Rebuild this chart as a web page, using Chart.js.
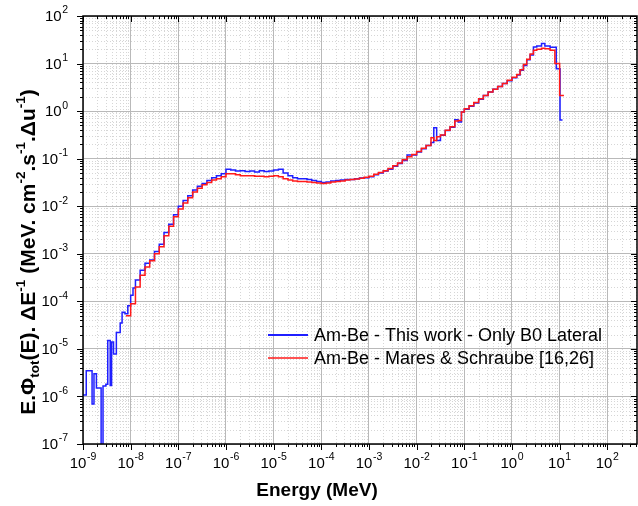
<!DOCTYPE html>
<html><head><meta charset="utf-8">
<script src="https://cdn.jsdelivr.net/npm/chart.js@4"></script>
<style>html,body{margin:0;padding:0;background:#fff;}#wrap{width:638px;height:506px;position:relative;}</style>
</head><body><div id="wrap"><canvas id="c" width="638" height="506"></canvas></div>
<script>
// ---------- data ----------
const xTickExponents = [-9,-8,-7,-6,-5,-4,-3,-2,-1,0,1,2];
const yTickExponents = [-7,-6,-5,-4,-3,-2,-1,0,1,2];
const xAxisTitle = 'Energy (MeV)';
const yAxisTitleParts = [
  {t:'E.\u03A6'},{t:'tot',sub:true},{t:'(E). \u0394E'},{t:'-1',sup:true},
  {t:' (MeV. cm'},{t:'-2',sup:true},{t:'.s'},{t:'-1',sup:true},{t:'.\u0394u'},{t:'-1',sup:true},{t:')'}
];
const seriesLabels = ['Am-Be - This work - Only B0 Lateral','Am-Be - Mares & Schraube [16,26]'];

// bin edges (MeV) and E.Phi values for the "This work" spectrum
const blueEnergy = [1e-9,1.17e-9,1.55e-9,1.70e-9,1.91e-9,2.40e-9,2.63e-9,3.02e-9,3.31e-9,3.72e-9,3.98e-9,4.37e-9,5.01e-9,6.03e-9,6.61e-9,7.59e-9,8.71e-9,
 1e-8,1.12e-8,1.26e-8,1.58e-8,2.0e-8,2.51e-8,3.16e-8,3.98e-8,5.01e-8,6.31e-8,7.94e-8,
 1e-7,1.26e-7,1.58e-7,2.0e-7,2.51e-7,3.16e-7,3.98e-7,5.01e-7,6.31e-7,7.94e-7,
 1e-6,1.26e-6,1.58e-6,2.0e-6,2.51e-6,3.16e-6,3.98e-6,5.01e-6,6.31e-6,7.94e-6,
 1e-5,1.26e-5,1.58e-5,2.0e-5,2.51e-5,3.16e-5,3.98e-5,5.01e-5,6.31e-5,7.94e-5,
 1e-4,1.26e-4,1.58e-4,2.0e-4,2.51e-4,3.16e-4,3.98e-4,5.01e-4,6.31e-4,7.94e-4,
 1e-3,1.26e-3,1.58e-3,2.0e-3,2.51e-3,3.16e-3,3.98e-3,5.01e-3,6.31e-3,7.94e-3,
 1e-2,1.26e-2,1.58e-2,2.0e-2,2.29e-2,2.63e-2,3.16e-2,3.98e-2,5.01e-2,6.31e-2,7.41e-2,8.71e-2,
 0.1,0.126,0.158,0.2,0.251,0.316,0.398,0.501,0.631,0.794,
 1.0,1.26,1.48,1.74,2.04,2.40,2.82,3.31,4.17,4.90,6.31,8.51,10.2,11.5];
const blueFlux = [1.07e-6,3.47e-6,6.9e-7,3.0e-6,1.5e-6,1e-8,1.66e-6,1.8e-6,1.5e-5,1.7e-6,1.4e-5,7.8e-6,2.2e-5,3.5e-5,5.9e-5,5.5e-5,8.1e-5,
 1.35e-4,1.9e-4,2.8e-4,4.5e-4,6.3e-4,7.4e-4,1.12e-3,1.58e-3,2.8e-3,4.2e-3,6.6e-3,
 1.0e-2,1.32e-2,1.66e-2,2.19e-2,2.63e-2,3.02e-2,3.47e-2,3.98e-2,4.37e-2,4.79e-2,
 6.0e-2,5.75e-2,5.5e-2,5.6e-2,5.4e-2,5.5e-2,5.25e-2,5.6e-2,5.4e-2,5.5e-2,
 5.75e-2,6.0e-2,5.0e-2,4.37e-2,3.98e-2,3.8e-2,3.8e-2,3.63e-2,3.47e-2,3.31e-2,
 3.16e-2,3.24e-2,3.39e-2,3.47e-2,3.55e-2,3.63e-2,3.63e-2,3.8e-2,3.9e-2,3.98e-2,
 4.17e-2,4.57e-2,5.0e-2,5.5e-2,6.0e-2,6.9e-2,7.9e-2,9.1e-2,0.12,0.12,
 0.138,0.162,0.19,0.219,0.447,0.24,0.31,0.39,0.457,0.66,0.59,0.955,
 1.10,1.26,1.48,1.78,2.14,2.51,2.88,3.31,3.8,4.37,
 5.0,5.75,7.2,9.1,12.0,15.1,22.4,23.4,26.3,23.4,21.9,7.8,0.65];

// bin edges (MeV) and E.Phi values for Mares & Schraube
const redEnergy = [7.94e-9,
 1e-8,1.26e-8,1.58e-8,2.0e-8,2.51e-8,3.16e-8,3.98e-8,5.01e-8,6.31e-8,7.94e-8,
 1e-7,1.26e-7,1.58e-7,2.0e-7,2.51e-7,3.16e-7,3.98e-7,5.01e-7,6.31e-7,7.94e-7,
 1e-6,1.26e-6,1.58e-6,2.0e-6,2.51e-6,3.16e-6,3.98e-6,5.01e-6,6.31e-6,7.94e-6,
 1e-5,1.26e-5,1.58e-5,2.0e-5,2.51e-5,3.16e-5,3.98e-5,5.01e-5,6.31e-5,7.94e-5,
 1e-4,1.26e-4,1.58e-4,2.0e-4,2.51e-4,3.16e-4,3.98e-4,5.01e-4,6.31e-4,7.94e-4,
 1e-3,1.26e-3,1.58e-3,2.0e-3,2.51e-3,3.16e-3,3.98e-3,5.01e-3,6.31e-3,7.94e-3,
 1e-2,1.26e-2,1.58e-2,2.0e-2,2.29e-2,2.63e-2,3.16e-2,3.98e-2,5.01e-2,6.31e-2,7.41e-2,8.71e-2,
 0.1,0.126,0.158,0.2,0.251,0.316,0.398,0.501,0.631,0.794,
 1.0,1.26,1.48,1.74,2.04,2.40,2.82,3.31,4.17,4.90,6.31,7.94,10.0,12.3];
const redFlux = [5.0e-5,
 8.9e-5,2.0e-4,3.55e-4,5.25e-4,7.1e-4,1.0e-3,1.41e-3,2.4e-3,3.8e-3,6.0e-3,
 8.7e-3,1.17e-2,1.51e-2,2.0e-2,2.4e-2,2.82e-2,3.16e-2,3.55e-2,3.8e-2,4.17e-2,
 4.79e-2,4.79e-2,4.57e-2,4.37e-2,4.37e-2,4.37e-2,4.27e-2,4.27e-2,4.17e-2,4.27e-2,
 4.37e-2,4.17e-2,3.8e-2,3.55e-2,3.39e-2,3.31e-2,3.31e-2,3.24e-2,3.16e-2,3.09e-2,
 3.02e-2,3.09e-2,3.24e-2,3.31e-2,3.39e-2,3.55e-2,3.63e-2,3.72e-2,3.89e-2,4.07e-2,
 4.27e-2,4.68e-2,5.13e-2,5.6e-2,6.2e-2,7.1e-2,8.1e-2,9.5e-2,0.11,0.123,
 0.141,0.166,0.19,0.275,0.24,0.288,0.316,0.398,0.468,0.617,0.631,0.955,
 1.12,1.29,1.51,1.82,2.14,2.51,2.88,3.31,3.8,4.47,
 5.13,5.9,7.4,9.5,12.3,15.8,19.1,20.0,20.9,20.4,19.1,10.0,2.14];

// ---------- helpers ----------
function toSteps(edges, vals){
  const pts = vals.map((v,i)=>({x:edges[i], y:v}));
  pts.push({x:edges[edges.length-1], y:vals[vals.length-1]});
  return pts;
}
const FONT = "'Liberation Sans', Arial, sans-serif";
const BLUE = '#1f1fff', RED = '#ff1a1a';

function drawPow(ctx, exp, x, y, align){
  ctx.font = '15px ' + FONT;
  const wb = ctx.measureText('10').width;
  ctx.font = '10.5px ' + FONT;
  const es = String(exp);
  const we = ctx.measureText(es).width;
  const w = wb + we + 0.5;
  let x0 = align === 'center' ? x - w/2 : x - w;
  ctx.textBaseline = 'middle'; ctx.textAlign = 'left'; ctx.fillStyle = '#000';
  ctx.font = '15px ' + FONT; ctx.fillText('10', x0, y);
  ctx.font = '10.5px ' + FONT; ctx.fillText(es, x0 + wb + 0.5, y - 6.5);
}

function drawRich(ctx, parts, cx, cy, size, small){
  let total = 0;
  for (const p of parts){ ctx.font = 'bold ' + (p.sub||p.sup ? small : size) + 'px ' + FONT; p.w = ctx.measureText(p.t).width; total += p.w; }
  let x = cx - total/2;
  ctx.textBaseline = 'middle'; ctx.textAlign = 'left'; ctx.fillStyle = '#000';
  for (const p of parts){
    ctx.font = 'bold ' + (p.sub||p.sup ? small : size) + 'px ' + FONT;
    const dy = p.sup ? -size*0.38 : (p.sub ? size*0.3 : 0);
    ctx.fillText(p.t, x, cy + dy);
    x += p.w;
  }
}

const framePlugin = {
  id: 'frame',
  beforeDraw(chart){
    const {ctx, chartArea:a, scales:{x, y}} = chart;
    ctx.save();
    ctx.strokeStyle = '#d6d6d6'; ctx.lineWidth = 1; ctx.setLineDash([1,2]);
    ctx.beginPath();
    for (const e of xTickExponents) for (let m=2; m<=9; m++){
      const v = m*Math.pow(10,e); if (v > x.max) continue;
      const px = Math.round(x.getPixelForValue(v)) + 0.5;
      ctx.moveTo(px, a.top); ctx.lineTo(px, a.bottom);
    }
    for (const e of yTickExponents) for (let m=2; m<=9; m++){
      const v = m*Math.pow(10,e); if (v > y.max) continue;
      const py = Math.round(y.getPixelForValue(v)) + 0.5;
      ctx.moveTo(a.left, py); ctx.lineTo(a.right, py);
    }
    ctx.stroke();
    ctx.restore();
  },
  afterDatasetsDraw(chart){
    const {ctx, chartArea:a, scales:{x, y}} = chart;
    ctx.save();
    ctx.strokeStyle = '#000'; ctx.lineWidth = 1;
    ctx.beginPath();
    const majL = 6, minL = 3;
    for (const e of xTickExponents){
      for (let m=1; m<=9; m++){
        const v = m*Math.pow(10,e); if (v > x.max) continue;
        const px = Math.round(x.getPixelForValue(v)) + 0.5;
        const L = m===1 ? majL : minL;
        ctx.moveTo(px, a.bottom); ctx.lineTo(px, a.bottom + L);
        ctx.moveTo(px, a.top); ctx.lineTo(px, a.top + L);
      }
    }
    for (const e of yTickExponents){
      for (let m=1; m<=9; m++){
        const v = m*Math.pow(10,e); if (v > y.max) continue;
        const py = Math.round(y.getPixelForValue(v)) + 0.5;
        const L = m===1 ? majL : minL;
        ctx.moveTo(a.left, py); ctx.lineTo(a.left - L, py);
        ctx.moveTo(a.right, py); ctx.lineTo(a.right - L, py);
      }
    }
    ctx.stroke();
    ctx.lineWidth = 1.5;
    ctx.strokeRect(a.left, a.top, a.right - a.left, a.bottom - a.top);
    ctx.restore();
  },
  afterDraw(chart){
    const {ctx, chartArea:a, scales:{x, y}} = chart;
    ctx.save();
    for (const e of xTickExponents) drawPow(ctx, e, x.getPixelForValue(Math.pow(10,e)), a.bottom + 20, 'center');
    for (const e of yTickExponents) drawPow(ctx, e, a.left - 15, y.getPixelForValue(Math.pow(10,e)) + 1, 'right');
    // axis titles
    ctx.font = 'bold 19px ' + FONT; ctx.textAlign = 'center'; ctx.textBaseline = 'middle'; ctx.fillStyle = '#000';
    ctx.fillText(xAxisTitle, 317, 491);
    ctx.translate(29, 252); ctx.rotate(-Math.PI/2);
    drawRich(ctx, yAxisTitleParts, 0, 0, 21, 13.5);
    ctx.restore();
    // legend
    ctx.save();
    const ds = chart.data.datasets;
    const rows = [{i:0, y:335, w:2}, {i:1, y:358, w:1.5}];
    for (const r of rows){
      ctx.strokeStyle = ds[r.i].borderColor; ctx.lineWidth = r.w;
      ctx.beginPath(); ctx.moveTo(268, r.y); ctx.lineTo(308, r.y); ctx.stroke();
      ctx.font = '18px ' + FONT; ctx.fillStyle = '#000'; ctx.textAlign = 'left'; ctx.textBaseline = 'middle';
      ctx.fillText(ds[r.i].label, 314, r.y + 1);
    }
    ctx.restore();
  }
};

new Chart(document.getElementById('c'), {
  type: 'line',
  data: {
    datasets: [
      {label: seriesLabels[0], data: toSteps(blueEnergy, blueFlux), borderColor: BLUE, borderWidth: 1.5, stepped: 'before', pointRadius: 0, fill: false, order: 1},
      {label: seriesLabels[1], data: toSteps(redEnergy, redFlux), borderColor: RED, borderWidth: 1.5, stepped: 'before', pointRadius: 0, fill: false, order: 0}
    ]
  },
  options: {
    responsive: false, animation: false, devicePixelRatio: 1,
    layout: {padding: {left: 83, right: 1, top: 16, bottom: 62}},
    plugins: {legend: {display: false}, tooltip: {enabled: false}},
    scales: {
      x: {type: 'logarithmic', min: 1e-9, max: 420,
          afterBuildTicks: s => { s.ticks = xTickExponents.map(e => ({value: Math.pow(10, e)})); },
          ticks: {display: false}, grid: {color: '#b9b9b9', lineWidth: 1, drawTicks: false}, border: {display: false}},
      y: {type: 'logarithmic', min: 1e-7, max: 100,
          afterBuildTicks: s => { s.ticks = yTickExponents.map(e => ({value: Math.pow(10, e)})); },
          ticks: {display: false}, grid: {color: '#b9b9b9', lineWidth: 1, drawTicks: false}, border: {display: false}}
    }
  },
  plugins: [framePlugin]
});
</script></body></html>
